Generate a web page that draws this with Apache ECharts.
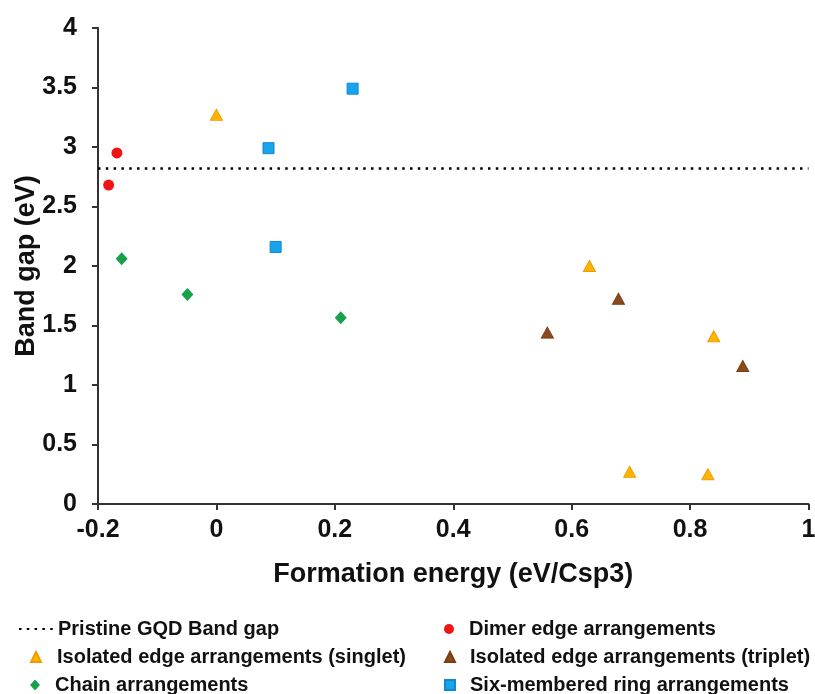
<!DOCTYPE html>
<html>
<head>
<meta charset="utf-8">
<script src="https://cdn.jsdelivr.net/npm/echarts@6/dist/echarts.min.js"></script>
<style>
html,body{margin:0;padding:0;background:#fff;}
#chart{width:815px;height:694px;}
</style>
</head>
<body>
<div id="chart"></div>
<script>
// ---- data ----
var xTicks = [-0.2, 0, 0.2, 0.4, 0.6, 0.8, 1];
var yTicks = [0, 0.5, 1, 1.5, 2, 2.5, 3, 3.5, 4];

var pristineX = [-0.2, 1];
var pristineY = [2.82, 2.82];

var dimerX = [-0.168, -0.182];
var dimerY = [2.95, 2.68];

var singletX = [0.0, 0.63, 0.84, 0.698, 0.83];
var singletY = [3.27, 2.0, 1.41, 0.27, 0.25];

var tripletX = [0.559, 0.679, 0.889];
var tripletY = [1.44, 1.725, 1.16];

var chainX = [-0.16, -0.049, 0.21];
var chainY = [2.06, 1.76, 1.565];

var ringX = [0.088, 0.23, 0.10];
var ringY = [2.99, 3.49, 2.16];

var names = {
  pristine: 'Pristine GQD Band gap',
  dimer: 'Dimer edge arrangements',
  singlet: 'Isolated edge arrangements (singlet)',
  triplet: 'Isolated edge arrangements (triplet)',
  chain: 'Chain arrangements',
  ring: 'Six-membered ring arrangements'
};

function pairs(xs, ys) {
  return xs.map(function (x, i) { return [x, ys[i]]; });
}

var FONT = '"Liberation Sans", Arial, sans-serif';
var chart = echarts.init(document.getElementById('chart'), null, {renderer: 'canvas'});

function legendAt(name, left, top, w, h, padLeft, extra) {
  var l = {
    data: [name], left: left, top: top, itemWidth: w, itemHeight: h, padding: 0,
    selectedMode: false,
    textStyle: {fontFamily: FONT, fontWeight: 'bold', fontSize: 20, color: '#111', padding: [0, 0, 0, padLeft]}
  };
  if (extra) { for (var k in extra) { l[k] = extra[k]; } }
  return l;
}

var axisLineStyle = {color: '#333', width: 2};

var option = {
  backgroundColor: '#fff',
  animation: false,
  grid: {left: 98, right: 6.5, top: 28, bottom: 190, containLabel: false, outerBoundsMode: 'none'},
  xAxis: {
    type: 'value', min: -0.2, max: 1, interval: 0.2,
    name: 'Formation energy (eV/Csp3)', nameLocation: 'middle', nameGap: 57, nameMoveOverlap: false,
    nameTextStyle: {fontFamily: FONT, fontWeight: 'bold', fontSize: 27, color: '#111'},
    axisLine: {show: true, onZero: false, lineStyle: axisLineStyle},
    axisTick: {show: true, length: 6, inside: false, lineStyle: axisLineStyle},
    splitLine: {show: false},
    axisLabel: {fontFamily: FONT, fontWeight: 'bold', fontSize: 25, color: '#111', margin: 14,
      formatter: function (v) { return String(Math.round(v * 10) / 10); }}
  },
  yAxis: {
    type: 'value', min: 0, max: 4, interval: 0.5,
    name: 'Band gap (eV)', nameLocation: 'middle', nameGap: 58, nameMoveOverlap: false,
    nameTextStyle: {fontFamily: FONT, fontWeight: 'bold', fontSize: 27, color: '#111'},
    axisLine: {show: true, onZero: false, lineStyle: axisLineStyle},
    axisTick: {show: true, length: 6, inside: false, lineStyle: axisLineStyle},
    splitLine: {show: false},
    axisLabel: {fontFamily: FONT, fontWeight: 'bold', fontSize: 25, color: '#111', margin: 21,
      formatter: function (v) { return String(Math.round(v * 10) / 10); }}
  },
  legend: [
    legendAt(names.pristine, 18, 619, 34, 10, 0,
      {itemStyle: {color: 'rgba(0,0,0,0)', borderColor: 'rgba(0,0,0,0)', borderWidth: 0, opacity: 0}}),
    legendAt(names.singlet, 30, 647, 10, 10, 11),
    legendAt(names.chain, 30, 675, 10, 11, 10),
    legendAt(names.dimer, 444, 619, 10, 10, 10),
    legendAt(names.triplet, 444, 647, 10, 10, 10),
    legendAt(names.ring, 444, 675, 10, 10, 10)
  ],
  series: [
    {
      name: names.pristine, type: 'line', data: pairs(pristineX, pristineY),
      symbol: 'none', showSymbol: false,
      lineStyle: {color: '#000', width: 2.5, type: [2.5, 5.3]},
      itemStyle: {color: '#000'}, z: 1
    },
    {
      name: names.dimer, type: 'scatter', data: pairs(dimerX, dimerY),
      symbol: 'circle', symbolSize: 11,
      itemStyle: {color: '#F01414', opacity: 1}
    },
    {
      name: names.singlet, type: 'scatter', data: pairs(singletX, singletY),
      symbol: 'triangle', symbolSize: [12, 11],
      itemStyle: {color: '#FFB400', borderColor: '#F29A00', borderWidth: 1, opacity: 1}
    },
    {
      name: names.triplet, type: 'scatter', data: pairs(tripletX, tripletY),
      symbol: 'triangle', symbolSize: [12, 11],
      itemStyle: {color: '#8A4A1E', borderColor: '#7A3E15', borderWidth: 1, opacity: 1}
    },
    {
      name: names.chain, type: 'scatter', data: pairs(chainX, chainY),
      symbol: 'diamond', symbolSize: [12, 13],
      itemStyle: {color: '#16A14A', opacity: 1}
    },
    {
      name: names.ring, type: 'scatter', data: pairs(ringX, ringY),
      symbol: 'rect', symbolSize: 11,
      itemStyle: {color: '#18A4EC', borderColor: '#1288CC', borderWidth: 1, opacity: 1}
    }
  ]
};
chart.setOption(option);
</script>
</body>
</html>
